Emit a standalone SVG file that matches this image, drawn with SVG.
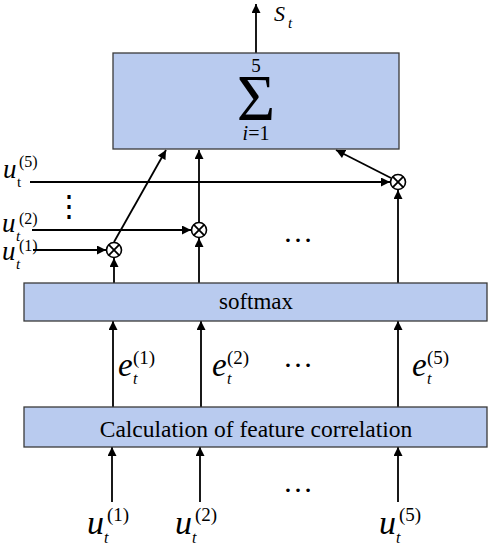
<svg xmlns="http://www.w3.org/2000/svg" width="491" height="547" viewBox="0 0 491 547">
<defs>
<marker id="ah" viewBox="0 0 10 10" refX="10" refY="5" markerWidth="10" markerHeight="9" markerUnits="userSpaceOnUse" orient="auto">
<path d="M0,0 L10,5 L0,10 Z" fill="#000"/>
</marker>
<style>
.box{fill:#B9CBEF;stroke:#3a3a3a;stroke-width:1.3}
.ln{stroke:#000;stroke-width:1.8;fill:none}
.arr{stroke:#000;stroke-width:1.8;fill:none;marker-end:url(#ah)}
.op{fill:#fff;stroke:#000;stroke-width:1.6}
.i{font-style:italic}
text{font-family:'Liberation Serif','Times New Roman','DejaVu Serif',serif;fill:#000}
</style>
</defs>
<rect width="491" height="547" fill="#fff"/>
<g id="connectors">
<line class="arr" x1="256" y1="53" x2="256" y2="4"/>
<line class="arr" x1="114" y1="242" x2="166" y2="150"/>
<line class="arr" x1="199" y1="222" x2="199" y2="150"/>
<line class="arr" x1="391" y1="178" x2="336" y2="150"/>
<line class="arr" x1="30" y1="182" x2="390" y2="182"/>
<line class="arr" x1="32" y1="230" x2="191" y2="230"/>
<line class="arr" x1="33" y1="250" x2="106" y2="250"/>
<line class="arr" x1="114" y1="283" x2="114" y2="258"/>
<line class="arr" x1="199" y1="283" x2="199" y2="238"/>
<line class="arr" x1="398" y1="283" x2="398" y2="190"/>
<line class="arr" x1="113" y1="407" x2="113" y2="321"/>
<line class="arr" x1="201" y1="407" x2="201" y2="321"/>
<line class="arr" x1="398" y1="407" x2="398" y2="321"/>
<line class="arr" x1="112" y1="502" x2="112" y2="447"/>
<line class="arr" x1="200" y1="502" x2="200" y2="447"/>
<line class="arr" x1="398" y1="502" x2="398" y2="447"/>
</g>
<g id="sum">
<rect class="box" x="113" y="53" width="286" height="96"/>
<text text-anchor="middle" font-size="20"><tspan x="256" y="72" font-size="19">5</tspan><tspan x="256" y="120" font-size="66">Σ</tspan><tspan x="256" y="140"><tspan class="i">i</tspan>=1</tspan></text>
</g>
<g id="output-label">
<text x="274" y="21" font-size="22" class="i">S<tspan x="288" y="28" font-size="15">t</tspan></text>
</g>
<g id="mult1"><circle class="op" cx="114" cy="250" r="7.5"/><path class="ln" d="M108.7,244.7 L119.3,255.3 M119.3,244.7 L108.7,255.3" stroke-width="1.4"/></g>
<g id="mult2"><circle class="op" cx="199" cy="230" r="7.5"/><path class="ln" d="M193.7,224.7 L204.3,235.3 M204.3,224.7 L193.7,235.3" stroke-width="1.4"/></g>
<g id="mult5"><circle class="op" cx="398" cy="182" r="7.5"/><path class="ln" d="M392.7,176.7 L403.3,187.3 M403.3,176.7 L392.7,187.3" stroke-width="1.4"/></g>
<g id="left-labels">
<text x="3" y="178" font-size="27"><tspan class="i">u</tspan><tspan x="17" y="187" font-size="15">t</tspan><tspan x="19" y="167" font-size="16">(5)</tspan></text>
<text x="2" y="232" font-size="27"><tspan class="i">u</tspan><tspan class="i" x="16" y="241" font-size="15">t</tspan><tspan x="19" y="224" font-size="16">(2)</tspan></text>
<text x="2" y="260" font-size="27"><tspan class="i">u</tspan><tspan class="i" x="16" y="269" font-size="15">t</tspan><tspan x="19" y="251" font-size="16">(1)</tspan></text>
<text x="69" y="216" font-size="30" text-anchor="middle">⋮</text>
<text x="298" y="242" font-size="30" text-anchor="middle">…</text>
</g>
<g id="softmax">
<rect class="box" x="24" y="283" width="463" height="38"/>
<text x="256" y="309" font-size="23" text-anchor="middle">softmax</text>
</g>
<g id="e-labels">
<text x="118" y="376" font-size="33"><tspan class="i">e</tspan><tspan class="i" x="133" y="384" font-size="16">t</tspan><tspan x="133" y="364" font-size="19">(1)</tspan></text>
<text x="212" y="376" font-size="33"><tspan class="i">e</tspan><tspan class="i" x="227" y="384" font-size="16">t</tspan><tspan x="227" y="364" font-size="19">(2)</tspan></text>
<text x="298" y="367" font-size="30" text-anchor="middle">…</text>
<text x="412" y="376" font-size="33"><tspan class="i">e</tspan><tspan class="i" x="427" y="384" font-size="16">t</tspan><tspan x="427" y="364" font-size="19">(5)</tspan></text>
</g>
<g id="correlation">
<rect class="box" x="24" y="407" width="463" height="40"/>
<text x="256" y="437" font-size="23.5" text-anchor="middle">Calculation of feature correlation</text>
</g>
<g id="bottom-labels">
<text x="87" y="534" font-size="34"><tspan class="i">u</tspan><tspan class="i" x="104" y="543" font-size="16">t</tspan><tspan x="107" y="521" font-size="19">(1)</tspan></text>
<text x="175" y="534" font-size="34"><tspan class="i">u</tspan><tspan class="i" x="192" y="543" font-size="16">t</tspan><tspan x="195" y="521" font-size="19">(2)</tspan></text>
<text x="298" y="492" font-size="30" text-anchor="middle">…</text>
<text x="379" y="534" font-size="34"><tspan class="i">u</tspan><tspan class="i" x="396" y="543" font-size="16">t</tspan><tspan x="399" y="521" font-size="19">(5)</tspan></text>
</g>
</svg>
